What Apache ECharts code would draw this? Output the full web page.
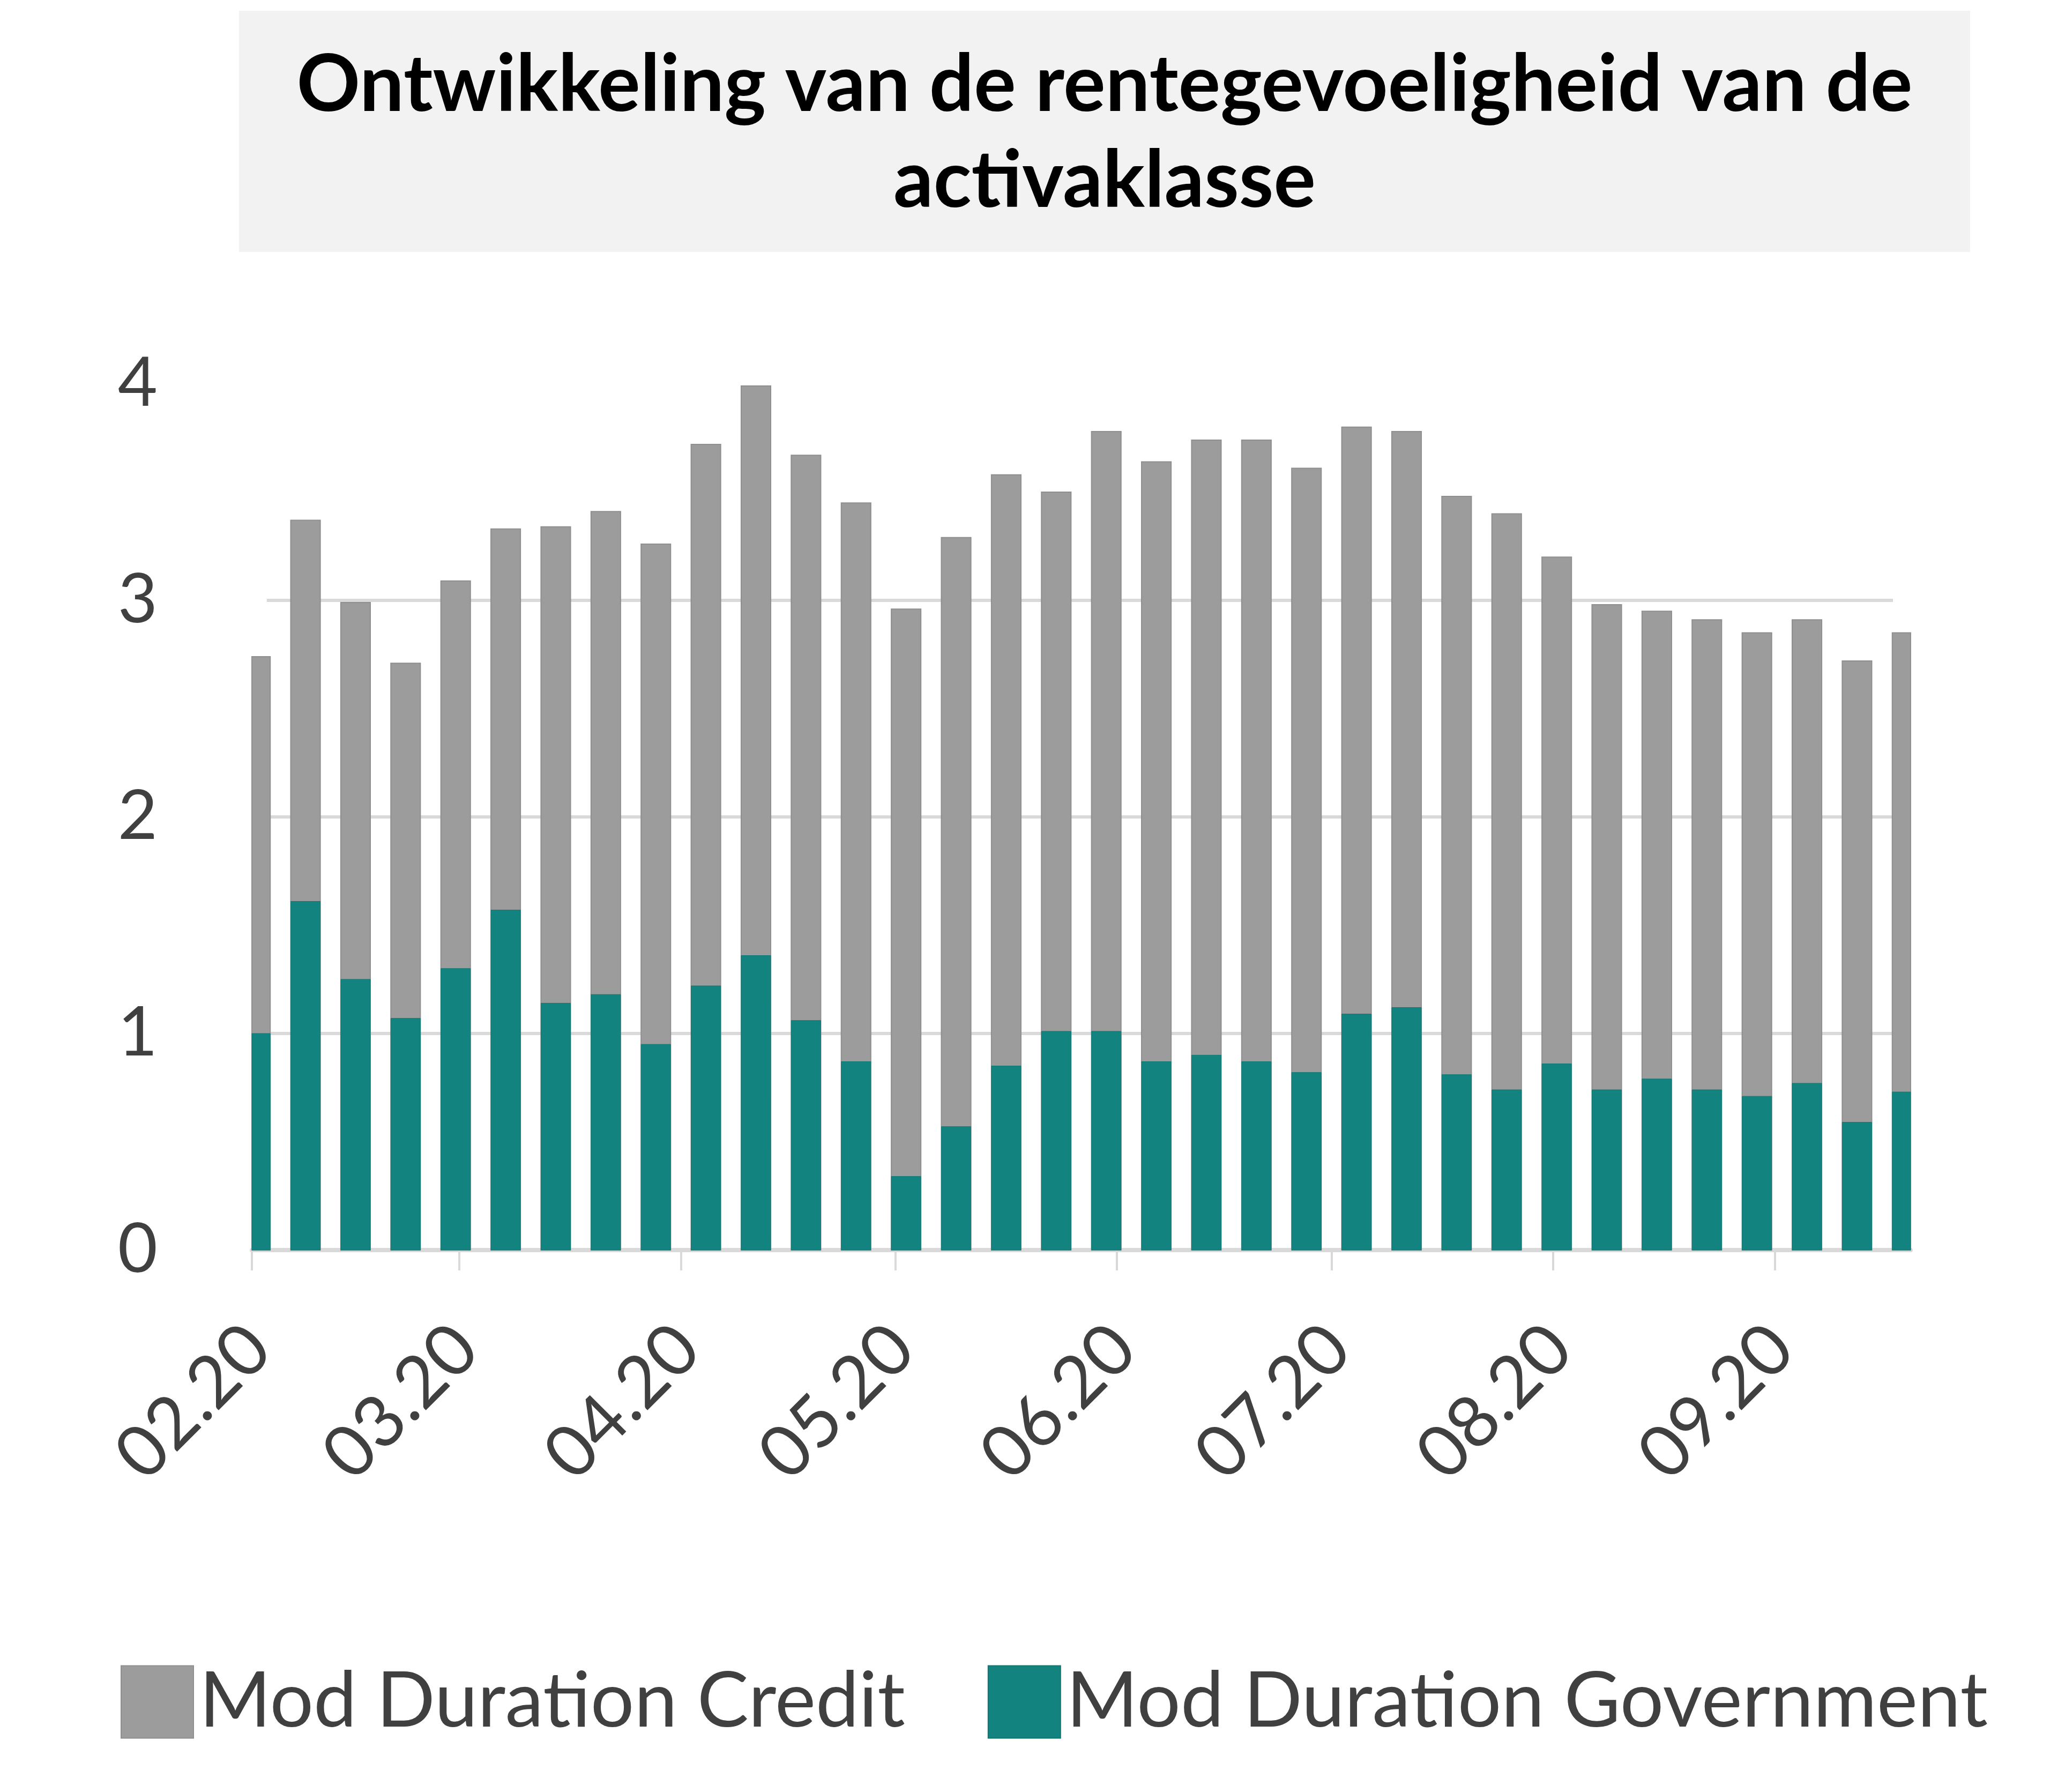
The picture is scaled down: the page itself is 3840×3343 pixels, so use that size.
<!DOCTYPE html>
<html><head><meta charset="utf-8">
<script src="https://cdn.jsdelivr.net/npm/echarts@6/dist/echarts.min.js"></script>
<style>html,body{margin:0;padding:0;background:#fff}#c{width:3840px;height:3343px}</style>
</head><body><div id="c"></div>
<script>
// ---- data ----
const titleText = 'Ontwikkeling van de rentegevoeligheid van de\nactivaklasse';
const seriesNames = ['Mod Duration Credit', 'Mod Duration Government'];
const weeks = ['2020-02-01','2020-02-08','2020-02-15','2020-02-22','2020-02-29',
  '2020-03-07','2020-03-14','2020-03-21','2020-03-28',
  '2020-04-04','2020-04-11','2020-04-18','2020-04-25',
  '2020-05-02','2020-05-09','2020-05-16','2020-05-23','2020-05-30',
  '2020-06-06','2020-06-13','2020-06-20','2020-06-27',
  '2020-07-04','2020-07-11','2020-07-18','2020-07-25',
  '2020-08-01','2020-08-08','2020-08-15','2020-08-22','2020-08-29',
  '2020-09-05','2020-09-12','2020-09-19'];
const credit = [2.74, 3.37, 2.99, 2.71, 3.09, 3.33, 3.34, 3.41, 3.26, 3.72, 3.99,
  3.67, 3.45, 2.96, 3.29, 3.58, 3.50, 3.78, 3.64, 3.74, 3.74, 3.61, 3.80, 3.78,
  3.48, 3.40, 3.20, 2.98, 2.95, 2.91, 2.85, 2.91, 2.72, 2.85];
const government = [1.00, 1.61, 1.25, 1.07, 1.30, 1.57, 1.14, 1.18, 0.95, 1.22, 1.36,
  1.06, 0.87, 0.34, 0.57, 0.85, 1.01, 1.01, 0.87, 0.90, 0.87, 0.82, 1.09, 1.12,
  0.81, 0.74, 0.86, 0.74, 0.79, 0.74, 0.71, 0.77, 0.59, 0.73];
const monthTicks = ['2020-02-01','2020-03-01','2020-04-01','2020-05-01',
  '2020-06-01','2020-07-01','2020-08-01','2020-09-01'];
const axisStart = '2020-02-01';
const axisEnd = '2020-09-20';
const yMin = 0, yMax = 4, yStep = 1;

// ---- build ----
// dates -> day numbers (UTC); Excel-style date axis: bar centred in its day slot
const DAY = 86400000;
const day = s => Date.UTC(+s.slice(0, 4), +s.slice(5, 7) - 1, +s.slice(8, 10)) / DAY;
const creditData = weeks.map((d, i) => [day(d) + 0.5, credit[i]]);
const govData = weeks.map((d, i) => [day(d) + 0.5, government[i]]);
const tickVals = monthTicks.map(day);
const fmt = v => { const d = new Date(Math.round(v) * DAY); return String(d.getUTCMonth() + 1).padStart(2, '0') + '.' + String(d.getUTCFullYear()).slice(2); };

const FONT = 'Lato';
const grey = '#9c9c9c', teal = '#13837f', axisGrey = '#d9d9d9', txt = '#404040';
const BAR_FRACTION = 0.59; // share of the 7-day slot covered by a bar

// column drawn through the axes' scales, clipped to the plot area (like Excel)
function columnItem(params, api) {
  const x = api.value(0), v = api.value(1);
  const base = api.coord([x, 0]);
  const top = api.coord([x, v]);
  const w = api.size([7, 0])[0] * BAR_FRACTION;
  const cs = params.coordSys;
  const shape = echarts.graphic.clipRectByRect(
    {x: base[0] - w / 2, y: top[1], width: w, height: base[1] - top[1]},
    {x: cs.x, y: cs.y, width: cs.width, height: cs.height});
  if (!shape) return null;
  return {type: 'rect', shape: shape, style: api.style()};
}

const chart = echarts.init(document.getElementById('c'), null, {renderer: 'canvas'});
chart.setOption({
  backgroundColor: '#ffffff',
  animation: false,
  graphic: [{
    type: 'rect', left: 446, top: 20, z: -10,
    shape: {width: 3230, height: 450},
    style: {fill: '#f2f2f2'}
  }],
  title: {
    text: titleText, left: 2061, top: 70, textAlign: 'center', padding: 0,
    textStyle: {fontFamily: FONT, fontWeight: 'bold', fontSize: 147, lineHeight: 179, color: '#000000'}
  },
  legend: {
    data: seriesNames, left: 225, top: 3103, padding: 0,
    itemWidth: 135, itemHeight: 135, itemGap: 154, icon: 'rect',
    textStyle: {fontFamily: FONT, fontSize: 144, color: txt, padding: [0, 0, 0, 6]}
  },
  grid: [
    {left: 470, right: 275, top: 716, bottom: 1011},
    {left: 498, right: 308, top: 716, bottom: 1011}
  ],
  xAxis: [{
    type: 'value', gridIndex: 0, min: day(axisStart), max: day(axisEnd),
    axisLine: {show: true, lineStyle: {color: axisGrey, width: 8}},
    axisTick: {show: true, customValues: tickVals, length: 38, lineStyle: {color: axisGrey, width: 4}},
    axisLabel: {customValues: tickVals, formatter: fmt, rotate: 45, margin: 150,
      verticalAlign: 'top', lineHeight: 36, fontFamily: FONT, fontSize: 134, color: txt},
    splitLine: {show: false}
  }, {
    type: 'value', gridIndex: 1, min: 0, max: 1, show: false
  }],
  yAxis: [{
    type: 'value', gridIndex: 0, min: yMin, max: yMax, interval: yStep,
    axisLine: {show: false}, axisTick: {show: false},
    axisLabel: {margin: 176, fontFamily: FONT, fontSize: 128, color: txt},
    splitLine: {show: false}
  }, {
    type: 'value', gridIndex: 1, min: yMin, max: yMax, interval: yStep,
    axisLine: {show: false}, axisTick: {show: false}, axisLabel: {show: false},
    splitLine: {show: true, showMinLine: false, showMaxLine: false, lineStyle: {color: axisGrey, width: 6}}
  }],
  series: [{
    name: seriesNames[0], type: 'custom', xAxisIndex: 0, yAxisIndex: 0,
    data: creditData, encode: {x: 0, y: 1}, renderItem: columnItem, z: 2,
    itemStyle: {color: grey, borderColor: '#8f8f8f', borderWidth: 2}
  }, {
    name: seriesNames[1], type: 'custom', xAxisIndex: 0, yAxisIndex: 0,
    data: govData, encode: {x: 0, y: 1}, renderItem: columnItem, z: 3,
    itemStyle: {color: teal, borderColor: '#0f7873', borderWidth: 1}
  }]
});
</script>
</body></html>
